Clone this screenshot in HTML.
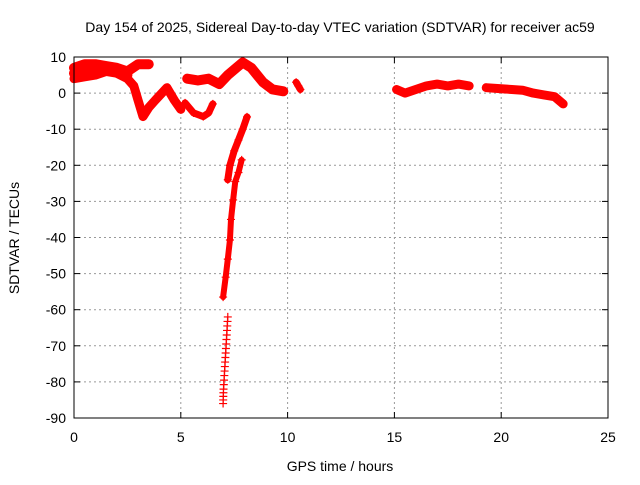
<!DOCTYPE html>
<html><head><meta charset="utf-8"><style>
body{margin:0;background:#fff}
svg text{font-family:"Liberation Sans",sans-serif;font-size:14px;fill:#000}
</style></head><body>
<svg id="c" width="640" height="480">
<text x="340" y="32" text-anchor="middle">Day 154 of 2025, Sidereal Day-to-day VTEC variation (SDTVAR) for receiver ac59</text>
<text x="340" y="471" text-anchor="middle">GPS time / hours</text>
<text transform="translate(19,238) rotate(-90)" text-anchor="middle">SDTVAR / TECUs</text>
<g id="grid"></g><g id="marks"></g>
<rect x="74" y="57" width="534" height="361" fill="none" stroke="#000" stroke-width="1"/>
</svg>
<script>
const xTicks=[0,5,10,15,20,25];
const yTicks=[10,0,-10,-20,-30,-40,-50,-60,-70,-80,-90];
// segments: hours and TECU values
const segAx=[0,0.5,1,1.5,2,2.5,3,3.5];
const segAy=[7,8,8,7.5,7,6,8,8];
const segKx=[0,0.5,1,1.5,2,2.5];
const segKy=[5.5,6,6.5,7,6,5];
const segBx=[0,0.5,1,1.5,2,2.5,2.8,3,3.23,3.5,3.8,4.35,4.7,5.0];
const segBy=[4,4.5,5,6,5.5,4,2,-2,-6.5,-4,-2,1.5,-2,-4.5];
const segCx=[5.2,5.6,6.05,6.3,6.5];
const segCy=[-2.7,-5.5,-6.5,-5.5,-3];
const segDx=[5.3,5.8,6.3,6.8,7.2,7.6,7.9,8.3,8.85,9.3,9.8];
const segDy=[4,3.5,4,2.5,5,7,8.5,7,3,1,0.5];
const segEx=[10.4,10.5,10.6];
const segEy=[3,2,1];
const segFx=[8.1,7.9,7.7,7.5,7.3,7.2];
const segFy=[-6.6,-10,-13,-16,-20,-24];
const segGx=[7.85,7.7,7.55,7.45,7.35,7.3,7.2,7.1,6.98];
const segGy=[-18.5,-22,-24.5,-29.6,-35,-40.7,-46,-51,-56.5];
const segHx=[7.2,7.15,7.1,7.05,7.0,6.98];
const segHy=[-62,-67,-72,-77,-82,-86];
const segIx=[15.1,15.5,16,16.5,17,17.5,18,18.5];
const segIy=[1,0,1,2,2.5,2,2.5,2];
const segJx=[19.3,20,20.5,21,21.5,22,22.5,22.9];
const segJy=[1.5,1.2,1,0.8,0,-0.5,-1,-3];
const xs=v=>74+v*534/25, ys=v=>57+(10-v)*361/100;
const NS="http://www.w3.org/2000/svg";
const g=document.getElementById('grid'),m=document.getElementById('marks');
function el(t,a,p){const e=document.createElementNS(NS,t);for(const k in a)e.setAttribute(k,a[k]);p.appendChild(e);return e;}
xTicks.forEach(t=>{const x=xs(t);
 if(t>0&&t<25){const l=el('line',{x1:x,x2:x,y1:57,y2:418,stroke:'#999','stroke-dasharray':'2,3'},g);
 
 }
 el('line',{x1:x,x2:x,y1:418,y2:412,stroke:'#000'},g);el('line',{x1:x,x2:x,y1:57,y2:63,stroke:'#000'},g);
 const tx=el('text',{x:x,y:442,'text-anchor':'middle'},g);tx.textContent=t;
 
 });
yTicks.forEach(t=>{const y=ys(t);
 if(t<10&&t>-90){const l=el('line',{x1:74,x2:608,y1:y,y2:y,stroke:'#999','stroke-dasharray':'2,3'},g);
 
 }
 el('line',{x1:74,x2:80,y1:y,y2:y,stroke:'#000'},g);el('line',{x1:602,x2:608,y1:y,y2:y,stroke:'#000'},g);
 const tx=el('text',{x:66,y:y+5,'text-anchor':'end'},g);tx.textContent=t;
 
 });
const segs=[[segAx,segAy,10],[segKx,segKy,10],[segBx,segBy,9],[segCx,segCy,7],[segDx,segDy,10],[segEx,segEy,7],[segFx,segFy,7],[segGx,segGy,6],[segHx,segHy,0],[segIx,segIy,9],[segJx,segJy,9]];
segs.forEach(([X,Y,w])=>{
 if(w>0){const pl=el('polyline',{points:X.map((x,i)=>xs(x)+','+ys(Y[i])).join(' '),fill:'none',stroke:'#f00','stroke-width':w,'stroke-linejoin':'round','stroke-linecap':'round'},m);
 
 }
 X.forEach((x,i)=>{const px=xs(x),py=ys(Y[i]);
  const p=el('path',{d:`M${px-4},${py}h8M${px},${py-4}v8`,stroke:'#f00','stroke-width':1.2},m);
  
  
  if(i<X.length-1&&w===0){const nx=xs(X[i+1]),ny=ys(Y[i+1]);for(let k=1;k<4;k++){const qx=px+(nx-px)*k/4,qy=py+(ny-py)*k/4;
   const q=el('path',{d:`M${qx-4},${qy}h8M${qx},${qy-4}v8`,stroke:'#f00','stroke-width':1.2},m);
   
   }}
 });
});
</script>
</body></html>
